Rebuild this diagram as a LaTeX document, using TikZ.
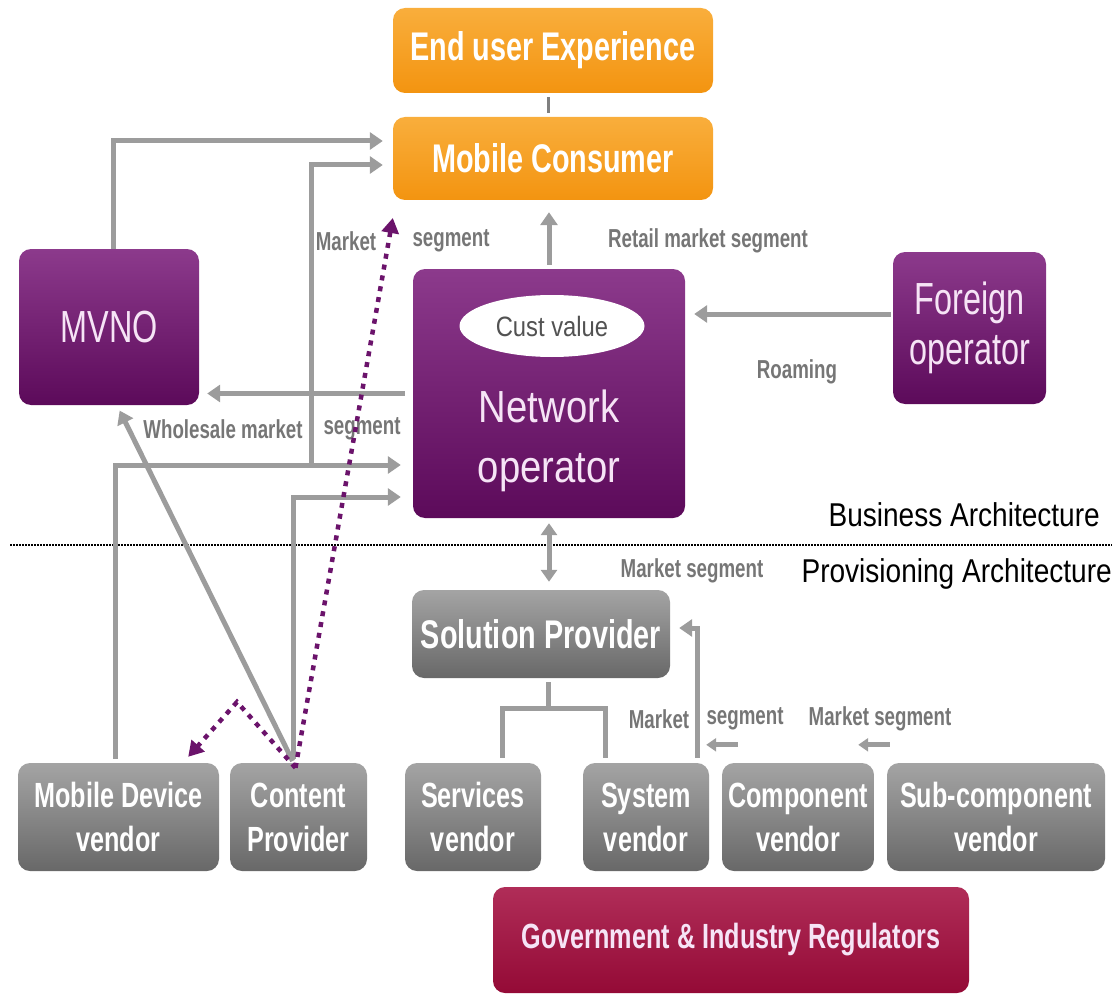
\documentclass[tikz,border=0pt]{standalone}
\usepackage{fontspec}
\setmainfont{Liberation Sans}
\newfontfamily\narrowsf[FakeStretch=0.72]{Liberation Sans}
\newfontfamily\widesf[FakeStretch=0.85]{Liberation Sans}
\usetikzlibrary{calc}
\usetikzlibrary{arrows.meta}
\usetikzlibrary{shapes.geometric}

\definecolor{orangetop}{HTML}{F9AE3C}
\definecolor{orangebot}{HTML}{F39410}
\definecolor{purptop}{HTML}{8C3A8C}
\definecolor{purpbot}{HTML}{5C0A5A}
\definecolor{greytop}{HTML}{A4A4A4}
\definecolor{greybot}{HTML}{686868}
\definecolor{govtop}{HTML}{B02D58}
\definecolor{govbot}{HTML}{940A36}
\definecolor{linegrey}{HTML}{9C9C9C}
\definecolor{labelgrey}{HTML}{767676}
\definecolor{dotpurple}{HTML}{6B136B}
\definecolor{palepink}{HTML}{F6E4F6}

\begin{document}
\begin{tikzpicture}[x=1pt,y=-1pt,
	box/.style={rectangle, rounded corners=12pt, inner sep=0pt, align=center},
	orangebox/.style={box, top color=orangetop, bottom color=orangebot, text=white,
		minimum width=320pt, font=\narrowsf\bfseries\fontsize{40}{44}\selectfont},
	purplebox/.style={box, top color=purptop, bottom color=purpbot, text=palepink,
		font=\narrowsf\fontsize{45}{50}\selectfont},
	greybox/.style={box, top color=greytop, bottom color=greybot, text=white,
		font=\narrowsf\bfseries\fontsize{35}{44}\selectfont},
	vendor/.style={greybox, minimum height=108pt},
	seglabel/.style={inner sep=0pt, text=labelgrey, font=\narrowsf\bfseries\fontsize{26}{28}\selectfont},
	archlabel/.style={inner sep=0pt, anchor=east, font=\widesf\fontsize{33}{36}\selectfont},
	sepline/.style={black, line width=1.5pt, dash pattern=on 1.5pt off 1.5pt},
	conn/.style={draw=linegrey, line width=5pt},
	arr/.style={conn, -{Triangle[length=13pt,width=17pt]}},
	smallarr/.style={conn, -{Triangle[length=10pt,width=13pt]}},
	dblarr/.style={conn, {Triangle[length=12pt,width=16pt]}-{Triangle[length=12pt,width=16pt]}},
	dotarr/.style={draw=dotpurple, line width=4.5pt, dash pattern=on 5pt off 6pt,
		-{Triangle[length=15pt,width=17pt]}},
]
	\useasboundingbox (0,0) rectangle (1119,995);

	\coordinate (mdvjoin)	at (311,465);
	\coordinate (dotbend)	at (237,702);
	\coordinate (spjoin)	at (548,708);

	% business architecture
	\node[orangebox, minimum height=85pt]	(eue)	at (553,50.5)	{End user Experience};
	\node[orangebox, minimum height=83pt]	(mc)	at (553,158.5)	{Mobile Consumer};
	\node[purplebox, minimum width=180pt, minimum height=156pt]	(mvno)	at (109,327)	{MVNO};
	\node[purplebox, minimum width=272pt, minimum height=249pt]	(netop)	at (549,393.5)	{};
	\node[ellipse, fill=white, minimum width=185pt, minimum height=62pt, inner sep=0pt,
		text=black!68, font=\widesf\fontsize{28}{30}\selectfont]	(cust)	at (552,326)	{Cust value};
	\node[align=center, text=palepink, font=\widesf\fontsize{45}{60}\selectfont]	(nettext)	at ([yshift=-47pt]netop.center)	{Network\\operator};
	\node[purplebox, minimum width=153pt, minimum height=152pt]	(foreign)	at (969.5,328)	{Foreign\\operator};

	% provisioning architecture
	\node[greybox, minimum width=258pt, minimum height=88pt, font=\narrowsf\bfseries\fontsize{40}{44}\selectfont]	(solprov)	at (541,634)	{Solution Provider};
	\node[vendor, minimum width=201pt]	(mdv)	at (118.5,817)	{Mobile Device\\vendor};
	\node[vendor, minimum width=137pt]	(cprov)	at (298.5,817)	{Content\\Provider};
	\node[vendor, minimum width=136pt]	(servv)	at (473,817)	{Services\\vendor};
	\node[vendor, minimum width=126pt]	(sysv)	at (646,817)	{System\\vendor};
	\node[vendor, minimum width=152pt]	(compv)	at (798,817)	{Component\\vendor};
	\node[vendor, minimum width=218pt]	(subv)	at (996,817)	{Sub-component\\vendor};
	\node[box, top color=govtop, bottom color=govbot, text=palepink, minimum width=476pt, minimum height=106pt,
		font=\narrowsf\bfseries\fontsize{35}{40}\selectfont]	(gov)	at (731,940)	{Government \& Industry Regulators};

	\draw[sepline] (10,545) -- (1112,545);
	\node[archlabel]	(busarch)	at (1100,515)	{Business Architecture};
	\node[archlabel]	(provarch)	at (1112,574)	{Provisioning Architecture};

	% labels
	\node[seglabel]	(mseg1)	at (346,241)	{Market};
	\node[seglabel]	(mseg2)	at (451,241)	{segment};
	\node[seglabel]	(retail)	at (708,241)	{Retail market segment};
	\node[seglabel]	(roam)	at (797,372)	{Roaming};
	\node[seglabel]	(whole1)	at (223,429)	{Wholesale market};
	\node[seglabel]	(whole2)	at (362,429)	{segment};
	\node[seglabel]	(mseg3)	at (692,571)	{Market segment};
	\node[seglabel]	(mseg4)	at (659,719)	{Market};
	\node[seglabel]	(mseg5)	at (745,719)	{segment};
	\node[seglabel]	(mseg6)	at (880,719)	{Market segment};

	% connectors
	\draw[draw=black!50, line width=3pt, shorten <=4pt, shorten >=4pt] ([xshift=-5pt]eue.south) -- ([xshift=-5pt]mc.north);
	\draw[arr, shorten <=4pt, shorten >=12pt] (netop.north) -- (netop.north |- mc.south);
	\draw[arr, shorten <=2pt, shorten >=9pt] (foreign.west |- 0,314) -- (netop.east |- 0,314);
	\draw[arr, shorten <=8pt, shorten >=8pt] (netop.west) -- (netop.west -| mvno.east);
	\draw[arr, shorten >=10pt] ([xshift=4pt]mvno.north) |- (mc.west |- 0,141);
	\draw[arr, shorten <=4pt, shorten >=12pt] ([xshift=-3pt]mdv.north) |- (netop.west |- 0,465);
	\draw[arr, shorten >=10pt] (mdvjoin) |- (mc.west |- 0,165);
	\draw[arr, shorten <=4pt, shorten >=12pt] ([xshift=-5pt]cprov.north) |- (netop.west |- 0,497);
	\draw[arr, shorten <=2pt, shorten >=6pt] ([xshift=-5pt]cprov.north) -- ([xshift=8pt]mvno.south);
	\draw[dotarr] ([xshift=-3pt,yshift=-5pt]cprov.north) -- (mc.south west |- 0,218);
	\draw[dotarr] ([xshift=-3pt,yshift=-5pt]cprov.north) -- (dotbend) -- ([xshift=-31pt,yshift=6pt]mdv.north east);

	\draw[dblarr, shorten <=5pt, shorten >=8pt] (netop.south) -- (netop.south |- solprov.north);
	\draw[conn, shorten <=4pt] (solprov.south -| spjoin) -- (spjoin);
	\draw[conn, shorten <=5pt, shorten >=5pt] ([xshift=29pt]servv.north) |- (spjoin) -| ([xshift=-41pt]sysv.north);
	\draw[arr, shorten <=5pt, shorten >=9pt] ([xshift=51pt]sysv.north) |- (solprov.east |- 0,628);
	\draw[smallarr] ([xshift=16pt,yshift=18pt]compv.north west) -- ([xshift=-3pt,yshift=18pt]sysv.north east);
	\draw[smallarr] ([xshift=3pt,yshift=18pt]subv.north west) -- ([xshift=-16pt,yshift=18pt]compv.north east);
\end{tikzpicture}
\end{document}
